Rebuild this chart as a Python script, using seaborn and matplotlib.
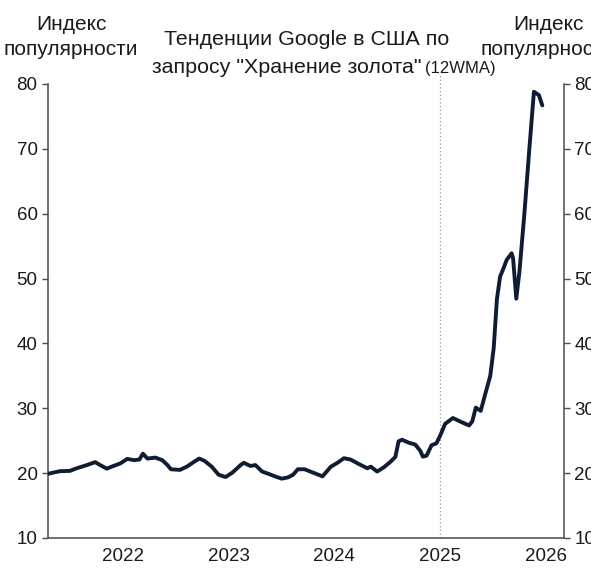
import pandas as pd
import seaborn as sns
import matplotlib.pyplot as plt
import matplotlib.dates as mdates

# values (12-week moving average)
dates = [
    "2021-04-16", "2021-05-27", "2021-07-01", "2021-07-24", "2021-08-22", "2021-09-14",
    "2021-09-26", "2021-10-13", "2021-11-05", "2021-12-04", "2021-12-22", "2022-01-15",
    "2022-02-08", "2022-02-26", "2022-03-10", "2022-03-26", "2022-04-22", "2022-05-16",
    "2022-06-03", "2022-06-15", "2022-07-16", "2022-08-09", "2022-09-03", "2022-09-21",
    "2022-10-09", "2022-11-03", "2022-11-27", "2022-12-21", "2023-01-14", "2023-02-11",
    "2023-02-22", "2023-03-17", "2023-04-03", "2023-04-26", "2023-05-18", "2023-06-10",
    "2023-07-03", "2023-07-25", "2023-08-11", "2023-08-28", "2023-09-20", "2023-10-24",
    "2023-11-21", "2023-12-20", "2024-01-12", "2024-02-03", "2024-02-26", "2024-03-26",
    "2024-04-24", "2024-05-06", "2024-05-28", "2024-06-20", "2024-07-13", "2024-07-30",
    "2024-08-10", "2024-08-22", "2024-09-14", "2024-10-07", "2024-10-24", "2024-11-02",
    "2024-11-15", "2024-12-02", "2024-12-19", "2025-01-01", "2025-01-18", "2025-02-14",
    "2025-03-09", "2025-04-11", "2025-04-22", "2025-05-04", "2025-05-21", "2025-06-07",
    "2025-06-23", "2025-07-05", "2025-07-16", "2025-07-27", "2025-08-08", "2025-08-19",
    "2025-09-05", "2025-09-10", "2025-09-21", "2025-10-02", "2025-10-19", "2025-11-05",
    "2025-11-21", "2025-12-08", "2025-12-20",
]
popularity = [
    19.9, 20.3, 20.35, 20.75, 21.15, 21.5,
    21.7, 21.25, 20.7, 21.2, 21.5, 22.2,
    22.0, 22.1, 23.0, 22.25, 22.4, 22.0,
    21.25, 20.6, 20.5, 21.0, 21.75, 22.25,
    21.9, 21.0, 19.75, 19.4, 20.1, 21.25,
    21.6, 21.1, 21.25, 20.25, 19.9, 19.5,
    19.15, 19.35, 19.75, 20.6, 20.6, 20.0,
    19.5, 21.0, 21.6, 22.3, 22.1, 21.4,
    20.75, 21.0, 20.25, 20.9, 21.75, 22.5,
    24.9, 25.15, 24.7, 24.4, 23.45, 22.55,
    22.7, 24.3, 24.6, 25.8, 27.6, 28.5,
    28.0, 27.35, 28.0, 30.1, 29.6, 32.4,
    35.0, 39.3, 46.8, 50.3, 51.6, 52.9,
    53.9, 53.1, 46.9, 51.1, 60.0, 69.9,
    78.8, 78.3, 76.7,
]
y_ticks = [10, 20, 30, 40, 50, 60, 70, 80]
x_ticks = ["2022-01-01", "2023-01-01", "2024-01-01", "2025-01-01", "2026-01-01"]
marker_date = "2025-01-01"

df = pd.DataFrame({"date": pd.to_datetime(dates), "value": popularity})

sns.set_style("white")
plt.rcParams["font.family"] = ["Liberation Sans", "DejaVu Sans"]

fig = plt.figure(figsize=(5.91, 5.84), dpi=100)
ax = fig.add_axes([48 / 591, 1 - 538 / 584, (564 - 48) / 591, (538 - 84) / 584])

line_col = "#0f1d33"
axis_col = "#4a4a4a"

ax.axvline(pd.Timestamp(marker_date), ymin=0, ymax=1.024, color="#9a9a9a",
           lw=0.9, ls=(0, (1, 2)), clip_on=False, zorder=1)
sns.lineplot(data=df, x="date", y="value", ax=ax, color=line_col, lw=2.8, zorder=3)

ax.set_xlim(pd.Timestamp("2021-04-16"), pd.Timestamp("2026-03-05"))
ax.set_ylim(10, 80)
ax.set_yticks(y_ticks)
ax.set_xticks(pd.to_datetime(x_ticks))
ax.xaxis.set_major_formatter(mdates.DateFormatter("%Y"))
ax.set_xlabel("")
ax.set_ylabel("")

ax2 = ax.twinx()
ax2.set_ylim(10, 80)
ax2.set_yticks(y_ticks)

for a in (ax, ax2):
    a.spines["top"].set_visible(False)
    for s in ("left", "right", "bottom"):
        a.spines[s].set_color(axis_col)
        a.spines[s].set_linewidth(1.1)
    a.tick_params(axis="both", direction="out", length=4.5, width=1.0,
                  color=axis_col, labelsize=13.5, labelcolor="#1a1a1a", pad=3)
ax.spines["right"].set_visible(False)
ax2.spines["left"].set_visible(False)
ax2.spines["bottom"].set_visible(False)

txt = "#1a1a1a"
fig.text(71 / 591, 1 - 30 / 584, "Индекс", ha="center", va="baseline", fontsize=15, color=txt)
fig.text(71 / 591, 1 - 55 / 584, "популярности", ha="center", va="baseline", fontsize=15, color=txt)
fig.text(548 / 591, 1 - 30 / 584, "Индекс", ha="center", va="baseline", fontsize=15, color=txt)
fig.text(481 / 591, 1 - 55 / 584, "популярности", ha="left", va="baseline", fontsize=15, color=txt)

fig.text(307 / 591, 1 - 45 / 584, "Тенденции Google в США по", ha="center", va="baseline",
         fontsize=15.4, color=txt)
fig.text(421 / 591, 1 - 73 / 584, "запросу \"Хранение золота\"", ha="right", va="baseline",
         fontsize=15.4, color=txt)
fig.text(425 / 591, 1 - 73 / 584, "(12WMA)", ha="left", va="baseline",
         fontsize=12, color=txt, family=["Liberation Sans Narrow", "Liberation Sans"])

fig.savefig("out.png", dpi=100)
